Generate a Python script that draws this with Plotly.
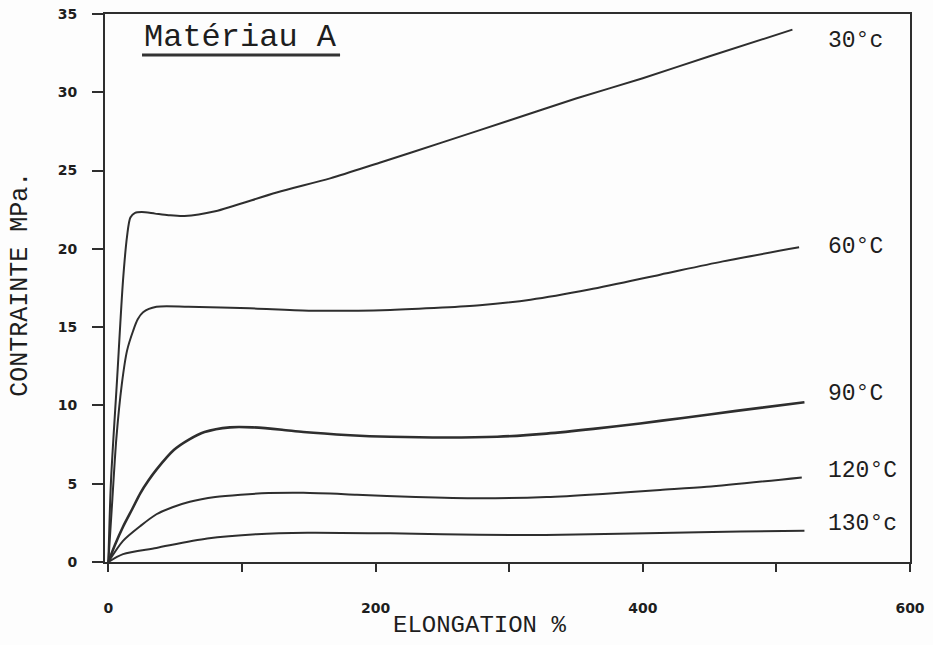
import plotly.graph_objects as go

# ---- data ----
series_names = ["30°c", "60°C", "90°C", "120°C", "130°c"]

x_30 = [0, 2, 6.5, 11, 14, 16.5, 20, 25, 35, 45, 57, 80, 126, 166, 203, 250, 300, 350, 400, 450, 512]
y_30 = [0, 5.2, 11.6, 18, 20.8, 22.0, 22.3, 22.35, 22.25, 22.15, 22.1, 22.4, 23.6, 24.5, 25.5, 26.8, 28.2, 29.6, 30.9, 32.3, 34.0]

x_60 = [0, 3, 6, 10, 14, 18.7, 22, 26, 36, 60, 106, 150, 211, 250, 278, 316, 360, 413, 460, 517]
y_60 = [0, 4, 7.9, 11.3, 13.5, 14.8, 15.5, 15.95, 16.3, 16.3, 16.2, 16.05, 16.1, 16.25, 16.4, 16.75, 17.4, 18.35, 19.2, 20.1]

x_90 = [0, 5, 11, 18, 24, 30, 36, 49, 60, 72, 91, 108, 130, 146, 181, 211, 253, 291, 328, 363, 398, 430, 470, 521]
y_90 = [0, 1.1, 2.25, 3.4, 4.4, 5.2, 5.9, 7.15, 7.8, 8.3, 8.6, 8.6, 8.45, 8.3, 8.1, 8.0, 7.95, 8.0, 8.2, 8.5, 8.85, 9.2, 9.65, 10.2]

x_120 = [0, 11, 24, 36, 48, 61, 80, 99, 120, 146, 186, 230, 278, 328, 370, 413, 448, 519]
y_120 = [0, 1.35, 2.3, 3.05, 3.5, 3.85, 4.15, 4.3, 4.4, 4.42, 4.3, 4.15, 4.07, 4.15, 4.35, 4.6, 4.8, 5.4]

x_130 = [0, 11, 36, 74, 111, 149, 211, 250, 303, 350, 413, 473, 521]
y_130 = [0, 0.5, 0.9, 1.5, 1.78, 1.87, 1.83, 1.78, 1.72, 1.75, 1.85, 1.95, 2.0]

x_tick_vals = [0, 100, 200, 300, 400, 500, 600]
x_tick_text = ["0", "", "200", "", "400", "", "600"]
y_tick_vals = [0, 5, 10, 15, 20, 25, 30, 35]
y_tick_text = ["0", "5", "10", "15", "20", "25", "30", "35"]

x_title = "ELONGATION %"
y_title = "CONTRAINTE MPa."
chart_title = "Matériau A"

label_x = 537
label_y = [33.3, 20.1, 10.7, 5.8, 2.4]

xs = [x_30, x_60, x_90, x_120, x_130]
ys = [y_30, y_60, y_90, y_120, y_130]
widths = [2, 2, 2.6, 2, 2]

INK = "#2e2e2e"
TXT = "#1e1e1e"
MONO = "Liberation Mono"

fig = go.Figure()
for name, xv, yv, w in zip(series_names, xs, ys, widths):
    fig.add_trace(go.Scatter(
        x=xv, y=yv, mode="lines", name=name,
        line=dict(color=INK, width=w, shape="spline", smoothing=0.8),
        showlegend=False, hoverinfo="skip",
    ))

annotations = []
for name, ly in zip(series_names, label_y):
    annotations.append(dict(
        x=label_x, y=ly, xref="x", yref="y", text=name, showarrow=False,
        xanchor="left", yanchor="middle",
        font=dict(family=MONO, size=23, color=TXT),
    ))
annotations.append(dict(
    x=0.046, y=0.957, xref="paper", yref="paper", text=chart_title,
    showarrow=False, xanchor="left", yanchor="middle",
    font=dict(family=MONO, size=32, color=TXT),
))
annotations.append(dict(
    x=0.465, y=-0.116, xref="paper", yref="paper", text=x_title,
    showarrow=False, xanchor="center", yanchor="middle",
    font=dict(family=MONO, size=24, color=TXT),
))
annotations.append(dict(
    x=-0.106, y=0.507, xref="paper", yref="paper", text=y_title,
    showarrow=False, xanchor="center", yanchor="middle", textangle=-90,
    font=dict(family=MONO, size=25, color=TXT),
))

fig.update_layout(
    width=933, height=645, autosize=False,
    margin=dict(l=105, r=23, t=14, b=83),
    paper_bgcolor="#fdfdfd", plot_bgcolor="#fdfdfd",
    annotations=annotations,
    shapes=[dict(type="line", xref="paper", yref="paper",
                 x0=0.046, x1=0.292, y0=0.925, y1=0.925,
                 line=dict(color="#333", width=3))],
    xaxis=dict(
        range=[-2.5, 600], showgrid=False, zeroline=False, automargin=False,
        showline=True, linecolor=INK, linewidth=2, mirror=True,
        ticks="outside", ticklen=8, tickwidth=2, tickcolor=INK,
        tickvals=x_tick_vals, ticktext=x_tick_text,
        tickfont=dict(family="DejaVu Sans", size=14, color=TXT, weight="bold"),
        ticklabelstandoff=24,
    ),
    yaxis=dict(
        range=[0, 35], showgrid=False, zeroline=False, automargin=False,
        showline=True, linecolor=INK, linewidth=2, mirror=True,
        ticks="outside", ticklen=11, tickwidth=2, tickcolor=INK,
        tickvals=y_tick_vals, ticktext=y_tick_text,
        tickfont=dict(family="DejaVu Sans", size=14, color=TXT, weight="bold"),
        ticklabelstandoff=12,
    ),
)

fig.write_html(
    "out.html",
    config={"displayModeBar": False},
    post_script="document.body.style.margin='0';document.body.style.overflow='hidden';",
)
